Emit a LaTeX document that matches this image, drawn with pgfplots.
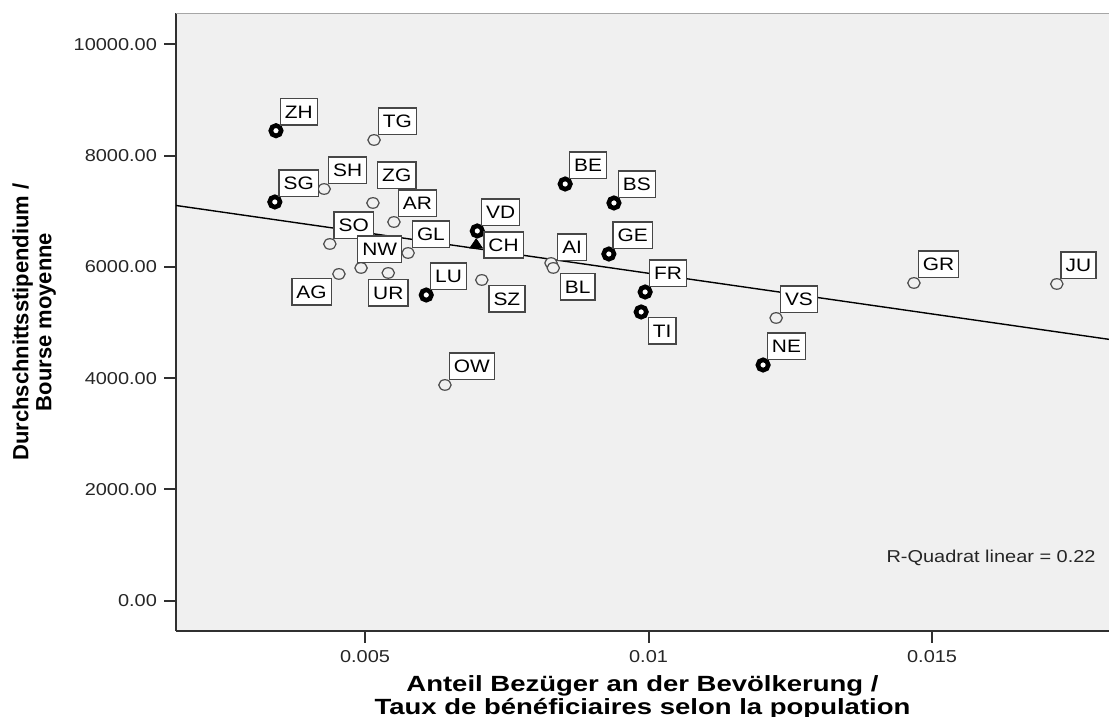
\documentclass[border=0pt]{standalone}
\usepackage{fontspec}
\setmainfont{Liberation Sans}[FakeStretch=1.16]
\newfontfamily\xlabfont{Liberation Sans}[FakeStretch=1.25]
\newfontfamily\ylabfont{Liberation Sans}
\usepackage{pgfplots}
\usepackage{pgfplotstable}
\pgfplotsset{compat=1.18}
\definecolor{bg}{HTML}{F0F0F0}
\definecolor{axc}{HTML}{303030}

% bold-ring cantons
\pgfplotstableread{
x y
0.00343 8447
0.00341 7166
0.00608 5494
0.00698 6645
0.00853 7489
0.00939 7148
0.00930 6231
0.00994 5548
0.00987 5189
0.01202 4236
}\boldpts

% thin-circle cantons
\pgfplotstableread{
x y
0.00516 8280
0.00428 7399
0.00514 7148
0.00551 6806
0.00438 6411
0.00576 6249
0.00493 5980
0.00454 5872
0.00541 5890
0.00706 5764
0.00641 3877
0.00828 6069
0.00832 5980
0.01225 5081
0.01468 5710
0.01720 5692
}\thinpts

\pgfplotsset{
  lbl/.style n args={3}{only marks, mark=none, point meta=explicit symbolic,
    nodes near coords,
    every node near coord/.append style={anchor=#1, xshift=#2, yshift=#3,
      fill=white, draw=black!72, line width=0.7pt, text=black,
      inner xsep=2.3pt, inner ysep=3.3pt, text height=6.5pt, text depth=0pt,
      font=\fontsize{9}{10}\selectfont}},
}

\begin{document}
\begin{tikzpicture}
\begin{axis}[
  at={(88pt,43pt)}, anchor=south west,
  scale only axis, width=466.5pt, height=308.85pt,
  xmin=0.001667, xmax=0.01812, ymin=-545, ymax=10557,
  axis x line*=bottom, axis y line*=left,
  x axis line style={-, axc, line width=1.1pt},
  y axis line style={-, axc, line width=1.1pt},
  axis background/.style={fill=bg},
  xtick={0.005,0.01,0.015}, xticklabels={0.005,0.01,0.015},
  ytick={0,2000,4000,6000,8000,10000},
  yticklabels={0.00,2000.00,4000.00,6000.00,8000.00,10000.00},
  tick align=outside, major tick length=6pt,
  tick style={axc, line width=1pt},
  tick label style={font=\fontsize{8.6}{10}\selectfont, text=black!85},
  scaled x ticks=false,
  xlabel={Anteil Bezüger an der Bevölkerung /\\Taux de bénéficiaires selon la population},
  xlabel style={at={(rel axis cs:0.5,0)}, anchor=north, inner sep=0pt, yshift=-22pt,
    align=center, font=\xlabfont\bfseries\fontsize{11}{10.3}\selectfont},
]
\draw[gray!70, line width=0.6pt] (rel axis cs:0,1) -- (rel axis cs:1,1);
% thin open circles
\addplot[only marks, mark=*, mark size=3.1pt,
  mark options={draw=black!70, fill=bg, line width=0.6pt, yscale=0.85}]
  table[x=x,y=y]{\thinpts};
% bold rings
\addplot[only marks, mark=*, mark size=2.6pt,
  mark options={draw=black, fill=white, line width=2.3pt}]
  table[x=x,y=y]{\boldpts};
% CH triangle
\addplot[only marks, mark=triangle*, mark size=3.6pt,
  mark options={draw=black, fill=black, yscale=0.85}]
  coordinates {(0.00696,6393)};
% labels
\addplot[lbl={south west}{1.8pt}{2.5pt}] coordinates {
  (0.00343,8447) [ZH] (0.00516,8280) [TG] (0.00428,7399) [SH]
  (0.00341,7166) [SG] (0.00551,6806) [AR] (0.00438,6411) [SO]
  (0.00576,6249) [GL] (0.00608,5494) [LU] (0.00698,6645) [VD]
  (0.00641,3877) [OW] (0.00853,7489) [BE] (0.00939,7148) [BS]
  (0.00930,6231) [GE] (0.00994,5548) [FR] (0.01225,5081) [VS]
  (0.01202,4236) [NE] (0.01468,5710) [GR] (0.01720,5692) [JU]};
\addplot[lbl={south west}{2pt}{7pt}] coordinates {(0.00514,7148) [ZG]};
\addplot[lbl={south west}{-2pt}{2.5pt}] coordinates {(0.00493,5980) [NW]};
\addplot[lbl={south west}{3pt}{1pt}] coordinates {(0.00828,6069) [AI]};
\addplot[lbl={west}{3.5pt}{0pt}] coordinates {(0.00696,6393) [CH]};
\addplot[lbl={north east}{-3.5pt}{-2pt}] coordinates {(0.00454,5872) [AG]};
\addplot[lbl={north}{0pt}{-3pt}] coordinates {(0.00541,5890) [UR]};
\addplot[lbl={north west}{3.2pt}{-2.5pt}] coordinates {
  (0.00706,5764) [SZ] (0.00832,5980) [BL] (0.00987,5189) [TI]};
% regression line
\addplot[black, line width=0.7pt] coordinates {(0.001667,7103) (0.01812,4697)};
\node[anchor=base east, inner sep=0pt, font=\fontsize{8.6}{10}\selectfont, text=black!85]
  at (rel axis cs:1,0.1117) [xshift=-6.5pt] {R-Quadrat linear = 0.22};
\end{axis}
\node[rotate=90, anchor=north, inner sep=0pt, align=center,
  font=\ylabfont\bfseries\fontsize{11}{11.5}\selectfont] at (6pt,197.5pt)
  {Durchschnittsstipendium /\\Bourse moyenne};
\pgfresetboundingbox
\path[use as bounding box] (0,0) rectangle (554.5pt,358.5pt);
\end{tikzpicture}
\end{document}
